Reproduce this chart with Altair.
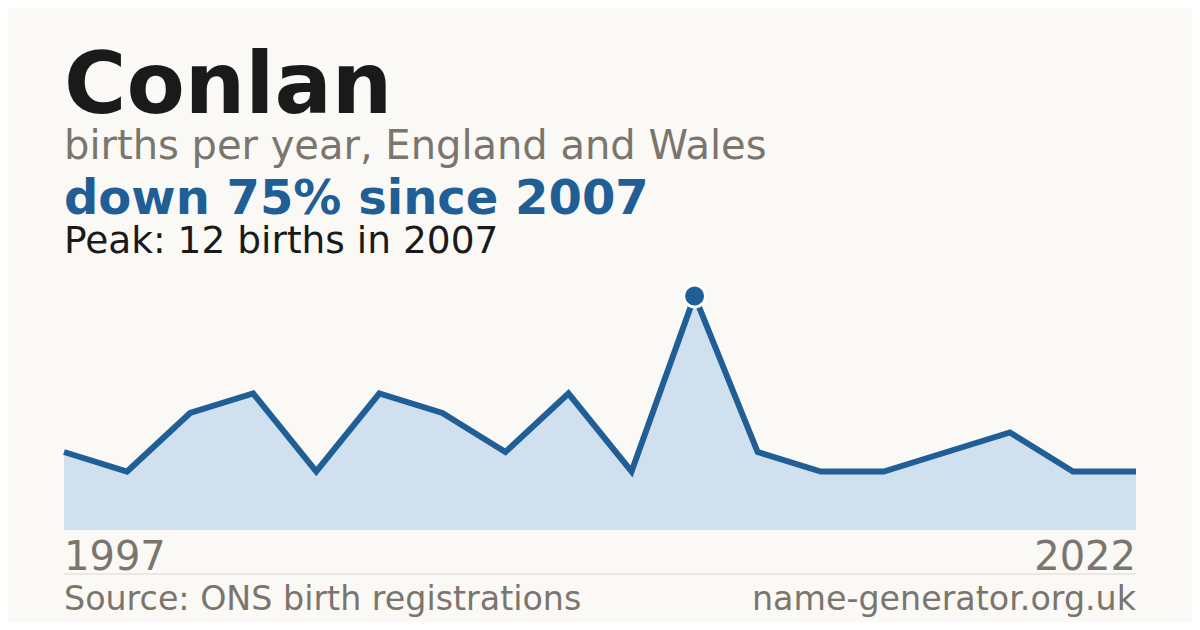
import altair as alt
import pandas as pd

# ---- data ----
name = "Conlan"
subtitle = "births per year, England and Wales"
headline = "down 75% since 2007"
peak_note = "Peak: 12 births in 2007"
source = "Source: ONS birth registrations"
site = "name-generator.org.uk"

years = [1997, 1998, 1999, 2000, 2001, 2002, 2003, 2004, 2005, 2006, 2007,
         2008, 2009, 2011, 2014, 2016, 2019, 2022]
births = [4, 3, 6, 7, 3, 7, 6, 4, 7, 3, 12, 4, 3, 3, 4, 5, 3, 3]

# ---- styling ----
BG = "#faf9f5"
BLUE = "#1f5f96"
FILL = "#d0e0ef"
DARK = "#1a1a1a"
GREY = "#7a756d"
RULE = "#ddd8d0"
FONT = "DejaVu Sans"

W, H = 1072, 234

df = pd.DataFrame({"i": list(range(len(years))), "year": [str(y) for y in years], "births": births})

x = alt.X("i:Q", scale=alt.Scale(domain=[0, len(years) - 1], nice=False, zero=False), axis=None)
y = alt.Y("births:Q", scale=alt.Scale(domain=[0, max(births)], nice=False), axis=None)

base = alt.Chart(df)

area = base.mark_area(color=FILL, opacity=1).encode(x=x, y=y)
line = base.mark_line(color=BLUE, strokeWidth=6, strokeCap="butt", strokeJoin="miter").encode(x=x, y=y)
peak = base.transform_filter(alt.datum.births == max(births)).mark_point(
    shape="circle", filled=True, fill=BLUE, stroke="white", strokeWidth=3, opacity=1
).encode(x=x, y=y, size=alt.value(480))

first_lbl = base.transform_filter(alt.datum.i == 0).mark_text(
    align="left", baseline="alphabetic", fontSize=40, font=FONT, color=GREY
).encode(x=x, y=alt.value(274), text="year:N")
last_lbl = base.transform_filter(alt.datum.i == len(years) - 1).mark_text(
    align="right", baseline="alphabetic", fontSize=40, font=FONT, color=GREY
).encode(x=x, y=alt.value(274), text="year:N")


def txt(s, ypos, size, color, weight="normal", align="left", xpos=0):
    return alt.Chart(pd.DataFrame({"t": [s]})).mark_text(
        align=align, baseline="alphabetic", fontSize=size, font=FONT,
        color=color, fontWeight=weight
    ).encode(text="t:N", x=alt.value(xpos), y=alt.value(ypos))


t_title = txt(name, -183, 85, DARK, "bold")
t_sub = txt(subtitle, -137, 40, GREY)
t_head = txt(headline, -82, 48, BLUE, "bold")
t_peak = txt(peak_note, -43, 37.5, DARK)
t_src = txt(source, 314, 33.3, GREY)
t_site = txt(site, 314, 33.3, GREY, align="right", xpos=W)

sep = alt.Chart(pd.DataFrame({"a": [0]})).mark_rule(color=RULE, strokeWidth=1).encode(
    x=alt.value(0), x2=alt.value(W), y=alt.value(278)
)

chart = alt.layer(
    area, line, peak, first_lbl, last_lbl, sep,
    t_title, t_sub, t_head, t_peak, t_src, t_site
).properties(
    width=W, height=H,
    padding={"left": 56, "top": 288, "right": 56, "bottom": 92},
    autosize=alt.AutoSizeParams(type="none"),
    background=BG,
).configure_view(stroke=None)

chart.save("out.html", embed_options={"renderer": "svg", "actions": False})
